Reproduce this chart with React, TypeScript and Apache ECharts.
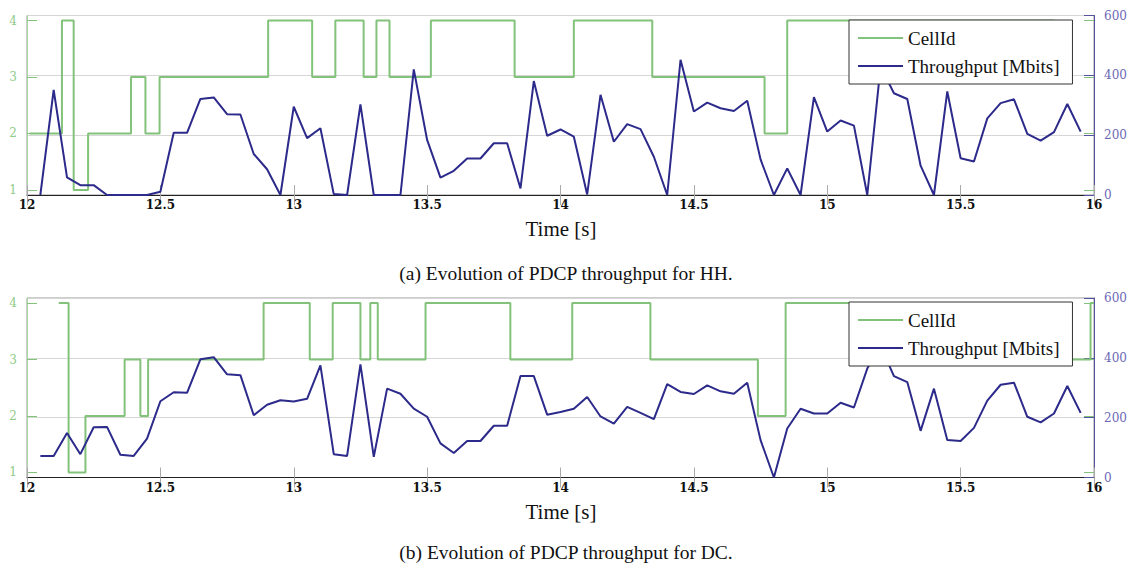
import React, { useEffect, useRef } from "react";
import * as echarts from "echarts";

// Sample instants of the PDCP throughput trace [s]
const sampleTimes = [
  12.05, 12.1, 12.15, 12.2, 12.25, 12.3, 12.35, 12.4, 12.45, 12.5,
  12.55, 12.6, 12.65, 12.7, 12.75, 12.8, 12.85, 12.9, 12.95, 13.0,
  13.05, 13.1, 13.15, 13.2, 13.25, 13.3, 13.35, 13.4, 13.45, 13.5,
  13.55, 13.6, 13.65, 13.7, 13.75, 13.8, 13.85, 13.9, 13.95, 14.0,
  14.05, 14.1, 14.15, 14.2, 14.25, 14.3, 14.35, 14.4, 14.45, 14.5,
  14.55, 14.6, 14.65, 14.7, 14.75, 14.8, 14.85, 14.9, 14.95, 15.0,
  15.05, 15.1, 15.15, 15.2, 15.25, 15.3, 15.35, 15.4, 15.45, 15.5,
  15.55, 15.6, 15.65, 15.7, 15.75, 15.8, 15.85, 15.9, 15.95,
];

// (a) HH: throughput [Mbits]
const hhThroughput = [
  0, 351, 59, 33, 33, 0, 0, 0, 0, 11,
  208, 208, 321, 326, 270, 269, 137, 86, 0, 295,
  190, 223, 3, 0, 303, 0, 0, 0, 420, 184,
  58, 81, 122, 122, 173, 173, 22, 381, 198, 219,
  195, 2, 335, 178, 237, 220, 128, 0, 452, 279,
  309, 290, 281, 315, 119, 0, 89, 0, 327, 212,
  249, 232, 0, 430, 340, 321, 98, 0, 346, 123,
  112, 256, 307, 320, 204, 182, 210, 304, 212,
];

// (b) DC: throughput [Mbits]
const dcThroughput = [
  72, 72, 149, 78, 168, 169, 76, 72, 130, 255,
  285, 283, 395, 402, 345, 342, 208, 243, 258, 254,
  263, 375, 78, 72, 378, 69, 297, 280, 230, 203,
  114, 82, 122, 122, 173, 173, 339, 339, 210, 219,
  230, 269, 204, 180, 236, 216, 195, 312, 286, 279,
  308, 288, 280, 317, 125, 0, 164, 230, 214, 214,
  250, 234, 364, 440, 339, 319, 156, 297, 125, 122,
  166, 257, 310, 317, 203, 184, 214, 306, 216,
];

// Serving cell changes: time [s] and the CellId that holds from it
const hhCellTimes = [
  12.01, 12.131, 12.175, 12.229, 12.39, 12.444, 12.497, 12.904, 13.069, 13.156,
  13.262, 13.31, 13.359, 13.514, 13.828, 14.05, 14.344, 14.765, 14.85, 15.85,
];
const hhCellIds = [2, 4, 1, 2, 3, 2, 3, 4, 3, 4, 3, 4, 3, 4, 3, 4, 3, 2, 4, 4];

const dcCellTimes = [
  12.119, 12.156, 12.219, 12.366, 12.425, 12.454, 12.887, 13.06, 13.146, 13.25,
  13.287, 13.315, 13.494, 13.812, 14.044, 14.337, 14.74, 14.844, 15.5, 15.987, 16.0,
];
const dcCellIds = [4, 1, 2, 3, 2, 3, 4, 3, 4, 3, 4, 3, 4, 3, 4, 3, 2, 4, 3, 4, 4];

const cellTicks = [1, 2, 3, 4];
const captions = [
  "(a) Evolution of PDCP throughput for HH.",
  "(b) Evolution of PDCP throughput for DC.",
];

const GREEN = "#83c27a";
const GREEN_LIGHT = "#a9d9a2";
const GREEN_LABEL = "#8fcc88";
const BLUE = "#2c2a8a";
const BLUE_AXIS = "#55529f";
const BLUE_LABEL = "#6b68b5";
const SERIF = "'Liberation Serif', 'Times New Roman', serif";

const zip = (xs: number[], ys: number[]) => xs.map((x, i) => [x, ys[i]]);

export default function App() {
  const ref = useRef<HTMLDivElement>(null);

  useEffect(() => {
    if (!ref.current) return;
    const chart = echarts.init(ref.current, null, { renderer: "svg" });

    const grids = [
      { left: 27, width: 1067, top: 15.5, height: 179.5 },
      { left: 27, width: 1067, top: 298, height: 179.5 },
    ];

    const xAxes: any[] = [];
    const yAxes: any[] = [];
    grids.forEach((_, g) => {
      xAxes.push({
        type: "value",
        gridIndex: g,
        min: 12,
        max: 16,
        interval: 0.5,
        axisLine: { show: true, onZero: false, lineStyle: { color: "#222", width: 1 } },
        axisTick: { show: true, inside: true, length: 10, lineStyle: { color: "#aaa" } },
        axisLabel: {
          color: "#111",
          fontFamily: "'DejaVu Serif', serif",
          fontWeight: "bold",
          fontSize: 12,
          margin: 4,
        },
        splitLine: { show: false },
      });
      xAxes.push({
        type: "value",
        gridIndex: g,
        position: "top",
        min: 12,
        max: 16,
        interval: 0.5,
        axisLine: { show: false },
        axisTick: { show: true, inside: true, length: 10, lineStyle: { color: "#aaa" } },
        axisLabel: { show: false },
        splitLine: { show: false },
      });
      // CellId axis (left)
      yAxes.push({
        type: "value",
        gridIndex: g,
        position: "left",
        min: 0.91,
        max: 4.09,
        axisLine: { show: true, lineStyle: { color: GREEN_LIGHT, width: 1 } },
        axisTick: {
          show: true,
          inside: true,
          length: 10,
          customValues: cellTicks,
          lineStyle: { color: GREEN },
        },
        axisLabel: {
          customValues: cellTicks,
          color: GREEN_LABEL,
          fontFamily: "'DejaVu Serif', serif",
          fontSize: 12,
          margin: 10,
        },
        splitLine: { show: false },
      });
      // Throughput axis (right)
      yAxes.push({
        type: "value",
        gridIndex: g,
        position: "right",
        min: 0,
        max: 600,
        interval: 200,
        axisLine: { show: true, lineStyle: { color: BLUE_AXIS, width: 1 } },
        axisTick: { show: true, inside: true, length: 10, lineStyle: { color: BLUE_AXIS } },
        axisLabel: {
          color: BLUE_LABEL,
          fontFamily: "'DejaVu Serif', serif",
          fontSize: 12,
          margin: 10,
        },
        splitLine: { show: true, lineStyle: { color: "#d6d6d6", width: 1 } },
      });
      // Mirrored CellId ticks on the right edge
      yAxes.push({
        type: "value",
        gridIndex: g,
        position: "right",
        min: 0.91,
        max: 4.09,
        axisLine: { show: false },
        axisTick: {
          show: true,
          inside: true,
          length: 10,
          customValues: cellTicks,
          lineStyle: { color: GREEN },
        },
        axisLabel: { show: false },
        splitLine: { show: false },
      });
    });

    const cellSeries = [zip(hhCellTimes, hhCellIds), zip(dcCellTimes, dcCellIds)];
    const tputSeries = [zip(sampleTimes, hhThroughput), zip(sampleTimes, dcThroughput)];

    const series: any[] = [];
    grids.forEach((_, g) => {
      series.push({
        name: "CellId",
        type: "line",
        step: "end",
        xAxisIndex: g * 2,
        yAxisIndex: g * 3,
        data: cellSeries[g],
        showSymbol: false,
        color: GREEN,
        lineStyle: { color: GREEN, width: 2 },
        z: 2,
      });
      series.push({
        name: "Throughput [Mbits]",
        type: "line",
        xAxisIndex: g * 2,
        yAxisIndex: g * 3 + 1,
        data: tputSeries[g],
        showSymbol: false,
        color: BLUE,
        lineStyle: { color: BLUE, width: 2 },
        z: 3,
      });
    });

    const legendBase = {
      orient: "vertical",
      left: 849,
      icon: "rect",
      itemWidth: 45,
      itemHeight: 2,
      itemGap: 8,
      padding: [8, 13, 8, 9],
      backgroundColor: "#fff",
      borderColor: "#333",
      borderWidth: 1,
      borderRadius: 0,
      selectedMode: false,
      textStyle: { fontFamily: SERIF, fontSize: 19, lineHeight: 20, color: "#111" },
      data: ["CellId", "Throughput [Mbits]"],
      z: 10,
    };

    const texts: any[] = [];
    [229, 512].forEach((y) =>
      texts.push({
        type: "text",
        left: null,
        x: 561,
        y,
        style: {
          text: "Time [s]",
          fill: "#111",
          font: `21px ${SERIF}`,
          textAlign: "center",
          textVerticalAlign: "middle",
        },
      })
    );
    [273, 552].forEach((y, i) =>
      texts.push({
        type: "text",
        x: 566,
        y,
        style: {
          text: captions[i],
          fill: "#111",
          font: `19.5px ${SERIF}`,
          textAlign: "center",
          textVerticalAlign: "middle",
        },
      })
    );

    chart.setOption({
      animation: false,
      backgroundColor: "#fff",
      grid: grids.map((g) => ({
        ...g,
        show: true,
        borderColor: "#999",
        borderWidth: 1,
        backgroundColor: "transparent",
      })),
      xAxis: xAxes,
      yAxis: yAxes,
      legend: [
        { ...legendBase, top: 20 },
        { ...legendBase, top: 302 },
      ],
      series,
      graphic: texts,
    });

    return () => chart.dispose();
  }, []);

  return (
    <div
      ref={ref}
      style={{ position: "absolute", left: 0, top: 0, width: 1134, height: 565 }}
    />
  );
}
